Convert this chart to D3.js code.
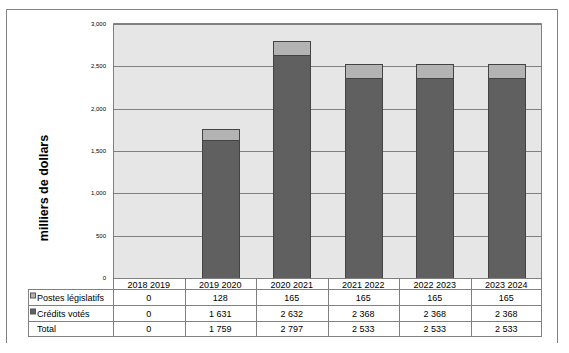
<!DOCTYPE html>
<html>
<head>
<meta charset="utf-8">
<script src="https://cdn.jsdelivr.net/npm/d3@7"></script>
<style>
  body { margin: 0; background: #fff; }
  text { font-family: "Liberation Sans", Arial, sans-serif; }
</style>
</head>
<body>
<div id="chart"></div>
<script>
// data
const years = ["2018 2019", "2019 2020", "2020 2021", "2021 2022", "2022 2023", "2023 2024"];
const postes = [0, 128, 165, 165, 165, 165];
const credits = [0, 1631, 2632, 2368, 2368, 2368];
const totals = [0, 1759, 2797, 2533, 2533, 2533];
const yTicks = [0, 500, 1000, 1500, 2000, 2500, 3000];

const W = 569, H = 353;
const plot = {left: 113, right: 542, top: 23, bottom: 278};

const svg = d3.select("#chart").append("svg")
    .attr("width", W)
    .attr("height", H);

// outer frame (no bottom edge)
svg.append("path")
    .attr("d", "M6.5,343 V9.5 H557.5 V343")
    .attr("fill", "none")
    .attr("stroke", "#808080")
    .attr("stroke-width", 1);

// scales
const x = d3.scaleBand()
    .domain(years)
    .range([plot.left, plot.right])
    .paddingInner(0.48)
    .paddingOuter(0.24);

const xCol = d3.scaleBand()
    .domain(years)
    .range([plot.left, plot.right]);

const y = d3.scaleLinear()
    .domain([0, 3000])
    .range([plot.bottom, plot.top + 1]);

// plot background
svg.append("rect")
    .attr("x", plot.left)
    .attr("y", plot.top)
    .attr("width", plot.right - plot.left)
    .attr("height", plot.bottom - plot.top)
    .attr("fill", "#e6e6e6");

// gridlines
svg.append("g")
    .selectAll("line")
    .data(yTicks)
    .join("line")
    .attr("x1", plot.left)
    .attr("x2", plot.right)
    .attr("y1", d => Math.round(y(d)) + 0.5)
    .attr("y2", d => Math.round(y(d)) + 0.5)
    .attr("stroke", "#808080")
    .attr("stroke-width", 1);

// plot frame
svg.append("path")
    .attr("d", `M${plot.left + 0.5},${plot.bottom} V${plot.top + 0.5} H${plot.right - 0.5} V${plot.bottom}`)
    .attr("fill", "none")
    .attr("stroke", "#808080");

// y tick labels
svg.append("g")
    .selectAll("text")
    .data(yTicks)
    .join("text")
    .attr("x", 106)
    .attr("y", d => y(d) + 2)
    .attr("text-anchor", "end")
    .attr("font-size", 6)
    .attr("fill", "#000")
    .text(d => d3.format(",")(d));

// y axis title
svg.append("text")
    .attr("transform", "translate(48,188) rotate(-90)")
    .attr("text-anchor", "middle")
    .attr("font-size", 12.5)
    .attr("font-weight", "bold")
    .attr("fill", "#000")
    .text("milliers de dollars");

// stacked bars
const barData = years.map((yr, i) => ({yr, credits: credits[i], postes: postes[i]}));
const bars = svg.append("g");

bars.selectAll(".credits")
    .data(barData.filter(d => d.credits + d.postes > 0))
    .join("rect")
    .attr("class", "credits")
    .attr("x", d => Math.round(x(d.yr)) + 0.5)
    .attr("y", d => Math.round(y(d.credits)) + 0.5)
    .attr("width", Math.round(x.bandwidth()))
    .attr("height", d => Math.round(y(0)) - Math.round(y(d.credits)))
    .attr("fill", "#606060")
    .attr("stroke", "#444")
    .attr("stroke-width", 1);

bars.selectAll(".postes")
    .data(barData.filter(d => d.postes > 0))
    .join("rect")
    .attr("class", "postes")
    .attr("x", d => Math.round(x(d.yr)) + 0.5)
    .attr("y", d => Math.round(y(d.credits + d.postes)) + 0.5)
    .attr("width", Math.round(x.bandwidth()))
    .attr("height", d => Math.round(y(d.credits)) - Math.round(y(d.credits + d.postes)))
    .attr("fill", "#b3b3b3")
    .attr("stroke", "#444")
    .attr("stroke-width", 1);

// data table
const table = svg.append("g");
const rowsY = [278, 289, 305, 321, 336];
const labelLeft = 28;
const lineColor = "#808080";

// horizontal lines
table.append("line")
    .attr("x1", plot.left).attr("x2", plot.right)
    .attr("y1", rowsY[0] + 0.5).attr("y2", rowsY[0] + 0.5)
    .attr("stroke", lineColor);
rowsY.slice(1).forEach(yy => {
    table.append("line")
        .attr("x1", labelLeft).attr("x2", plot.right)
        .attr("y1", yy + 0.5).attr("y2", yy + 0.5)
        .attr("stroke", lineColor);
});

// vertical lines
table.append("line")
    .attr("x1", labelLeft + 0.5).attr("x2", labelLeft + 0.5)
    .attr("y1", rowsY[1]).attr("y2", rowsY[4] + 0.5)
    .attr("stroke", lineColor);
years.forEach(yr => {
    const xx = Math.round(xCol(yr)) + 0.5;
    table.append("line")
        .attr("x1", xx).attr("x2", xx)
        .attr("y1", rowsY[0]).attr("y2", rowsY[4] + 0.5)
        .attr("stroke", lineColor);
});
table.append("line")
    .attr("x1", plot.right - 0.5).attr("x2", plot.right - 0.5)
    .attr("y1", rowsY[0]).attr("y2", rowsY[4] + 0.5)
    .attr("stroke", lineColor);

// header labels
table.selectAll(".hdr")
    .data(years)
    .join("text")
    .attr("class", "hdr")
    .attr("x", d => xCol(d) + xCol.bandwidth() / 2)
    .attr("y", 287.5)
    .attr("text-anchor", "middle")
    .attr("font-size", 9)
    .text(d => d);

const fmt = v => d3.format(",")(v).replace(/,/g, " ");
const rows = [
    {label: "Postes législatifs", values: postes, swatch: "#b3b3b3"},
    {label: "Crédits votés", values: credits, swatch: "#606060"},
    {label: "Total", values: totals, swatch: null}
];

rows.forEach((r, i) => {
    const cy = (rowsY[i + 1] + rowsY[i + 2]) / 2 + 3.5;
    if (r.swatch) {
        table.append("rect")
            .attr("x", 30.5).attr("y", cy - 7.5)
            .attr("width", 5).attr("height", 5)
            .attr("fill", r.swatch)
            .attr("stroke", "#555");
    }
    table.append("text")
        .attr("x", 37)
        .attr("y", cy)
        .attr("font-size", 9)
        .text(r.label);
    table.selectAll(".v" + i)
        .data(r.values)
        .join("text")
        .attr("x", (d, j) => xCol(years[j]) + xCol.bandwidth() / 2)
        .attr("y", cy)
        .attr("text-anchor", "middle")
        .attr("font-size", 9)
        .text(d => fmt(d));
});
</script>
</body>
</html>
